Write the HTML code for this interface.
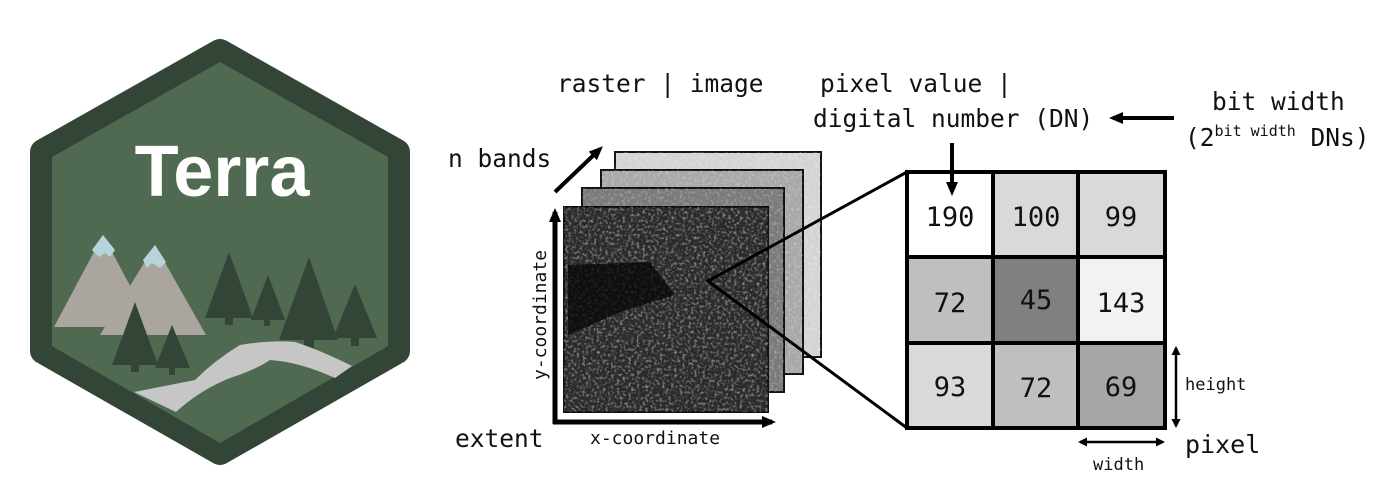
<!DOCTYPE html>
<html><head><meta charset="utf-8"><style>
html,body{margin:0;padding:0;background:#fff;}
svg{display:block}
.m{font-family:"DejaVu Sans Mono","Liberation Mono",monospace;fill:#111}
</style></head><body>
<svg width="1395" height="503" viewBox="0 0 1395 503" xmlns="http://www.w3.org/2000/svg">
<defs>
<filter id="tx" x="0" y="0" width="100%" height="100%">
<feTurbulence type="fractalNoise" baseFrequency="0.35" numOctaves="2" seed="3"/>
<feColorMatrix type="matrix" values="0 0 0 0 1  0 0 0 0 1  0 0 0 0 1  1.6 0 0 0 -0.75"/>
</filter>
<marker id="ah" markerWidth="14" markerHeight="14" refX="10" refY="7" orient="auto" markerUnits="userSpaceOnUse"><path d="M0,1 L14,7 L0,13 z" fill="#000"/></marker>
<marker id="as" markerWidth="9" markerHeight="9" refX="7" refY="4.5" orient="auto" markerUnits="userSpaceOnUse"><path d="M0,0 L9,4.5 L0,9 z" fill="#000"/></marker>
<marker id="as2" markerWidth="9" markerHeight="9" refX="2" refY="4.5" orient="auto" markerUnits="userSpaceOnUse"><path d="M9,0 L0,4.5 L9,9 z" fill="#000"/></marker>
</defs>
<!-- hex badge -->
<path d="M220,52 L397,152 L397,351 L220,452 L43,351 L43,152 Z" fill="#334537" stroke="#334537" stroke-width="26" stroke-linejoin="round"/>
<path d="M220,62 L388,157 L388,346 L220,443 L52,346 L52,157 Z" fill="#506a52"/>
<text x="222" y="196" text-anchor="middle" font-family="Liberation Sans,sans-serif" font-weight="bold" font-size="72" fill="#fff">Terra</text>
<!-- mountains -->
<path d="M54,327 L103,235 L152,327 Z" fill="#aaa69f"/>
<path d="M100,335 L155,245 L206,335 Z" fill="#aaa69f"/>
<path d="M92,250 L103,235 L115,250 L110,257 L105,253 L99,257 Z" fill="#b7d3dc"/>
<path d="M143,260 L155,245 L166,262 L160,268 L152,263 L147,268 Z" fill="#b7d3dc"/>
<!-- trees -->
<g fill="#334537">
<path d="M135,302 L158,365 L112,365 Z"/><rect x="131" y="360" width="8" height="12"/>
<path d="M172,325 L190,368 L155,368 Z"/><rect x="169" y="365" width="6" height="10"/>
<path d="M229,252 L253,318 L205,318 Z"/><rect x="225" y="315" width="8" height="10"/>
<path d="M268,275 L285,320 L251,320 Z"/><rect x="264" y="318" width="6" height="8"/>
<path d="M309,257 L338,340 L279,340 Z"/><rect x="304" y="337" width="10" height="12"/>
<path d="M355,284 L377,338 L333,338 Z"/><rect x="351" y="336" width="8" height="10"/>
</g>
<!-- river -->
<path d="M134,392 Q170,385 195,380 Q215,360 240,345 Q270,340 295,342 Q320,350 352,366 L335,378 Q300,362 270,360 Q255,370 230,378 Q200,390 176,412 Z" fill="#c6c6c6"/>
<!-- layers -->
<rect x="615" y="152" width="206" height="205" fill="#d4d4d4" stroke="#111" stroke-width="2"/>
<rect x="615" y="152" width="206" height="205" filter="url(#tx)" opacity="0.5"/>
<rect x="601" y="170" width="202" height="204" fill="#a8a8a8" stroke="#111" stroke-width="2"/>
<rect x="601" y="170" width="202" height="204" filter="url(#tx)" opacity="0.5"/>
<rect x="582" y="188" width="202" height="204" fill="#7a7a7a" stroke="#111" stroke-width="2"/>
<rect x="582" y="188" width="202" height="204" filter="url(#tx)" opacity="0.5"/>
<rect x="564" y="207" width="204" height="205" fill="#2a2a2a" stroke="#111" stroke-width="2"/>
<rect x="564" y="207" width="204" height="205" filter="url(#tx)" opacity="0.8"/>
<path d="M568,265 L650,262 L675,295 L620,312 L568,335 Z" fill="#050505" opacity="0.75"/>
<!-- axes -->
<path d="M555,424 L555,212" stroke="#000" stroke-width="5" fill="none" marker-end="url(#ah)"/>
<path d="M553,422 L772,422" stroke="#000" stroke-width="5" fill="none" marker-end="url(#ah)"/>
<path d="M555,192 L600,149" stroke="#000" stroke-width="4" fill="none" marker-end="url(#ah)"/>
<!-- zoom lines -->
<path d="M907,172 L708,281 L907,428" stroke="#000" stroke-width="3" fill="none"/>
<!-- grid -->
<rect x="907" y="172" width="86" height="85" fill="#fff"/>
<rect x="993" y="172" width="85" height="85" fill="#d9d9d9"/>
<rect x="1078" y="172" width="87" height="85" fill="#d9d9d9"/>
<rect x="907" y="257" width="86" height="86" fill="#bfbfbf"/>
<rect x="993" y="257" width="85" height="86" fill="#808080"/>
<rect x="1078" y="257" width="87" height="86" fill="#f2f2f2"/>
<rect x="907" y="343" width="86" height="85" fill="#d9d9d9"/>
<rect x="993" y="343" width="85" height="85" fill="#bfbfbf"/>
<rect x="1078" y="343" width="87" height="85" fill="#a6a6a6"/>
<g stroke="#000" stroke-width="4" fill="none">
<rect x="907" y="172" width="258" height="256"/>
<line x1="993" y1="172" x2="993" y2="428"/><line x1="1078" y1="172" x2="1078" y2="428"/>
<line x1="907" y1="257" x2="1165" y2="257"/><line x1="907" y1="343" x2="1165" y2="343"/>
</g>
<g class="m" font-size="27" text-anchor="middle">
<text x="950" y="226">190</text><text x="1036" y="226">100</text><text x="1121" y="226">99</text>
<text x="950" y="312">72</text><text x="1036" y="309">45</text><text x="1121" y="312">143</text>
<text x="950" y="396">93</text><text x="1036" y="397">72</text><text x="1121" y="396">69</text>
</g>
<!-- arrows -->
<path d="M952,143 L952,192" stroke="#000" stroke-width="4" fill="none" marker-end="url(#ah)"/>
<path d="M1174,118 L1113,118" stroke="#000" stroke-width="4" fill="none" marker-end="url(#ah)"/>
<path d="M1176,348 L1176,426" stroke="#000" stroke-width="2.5" fill="none" marker-end="url(#as)" marker-start="url(#as2)"/>
<path d="M1080,442 L1163,442" stroke="#000" stroke-width="2.5" fill="none" marker-end="url(#as)" marker-start="url(#as2)"/>
<!-- labels -->
<g class="m">
<text x="557" y="92" font-size="24.5">raster | image</text>
<text x="820" y="92" font-size="24.5">pixel value |</text>
<text x="813" y="127" font-size="24.5">digital number (DN)</text>
<text x="1212" y="110" font-size="24.5">bit width</text>
<text x="1185" y="146" font-size="24.5">(2<tspan font-size="15" dy="-10">bit width</tspan><tspan dy="10"> DNs)</tspan></text>
<text x="448" y="167" font-size="24.5">n bands</text>
<text x="455" y="447" font-size="24.5">extent</text>
<text x="590" y="444" font-size="18">x-coordinate</text>
<text transform="translate(546,315) rotate(-90)" text-anchor="middle" font-size="18">y-coordinate</text>
<text x="1185" y="390" font-size="17">height</text>
<text x="1093" y="470" font-size="17">width</text>
<text x="1185" y="453" font-size="25">pixel</text>
</g>
</svg>
</body></html>
